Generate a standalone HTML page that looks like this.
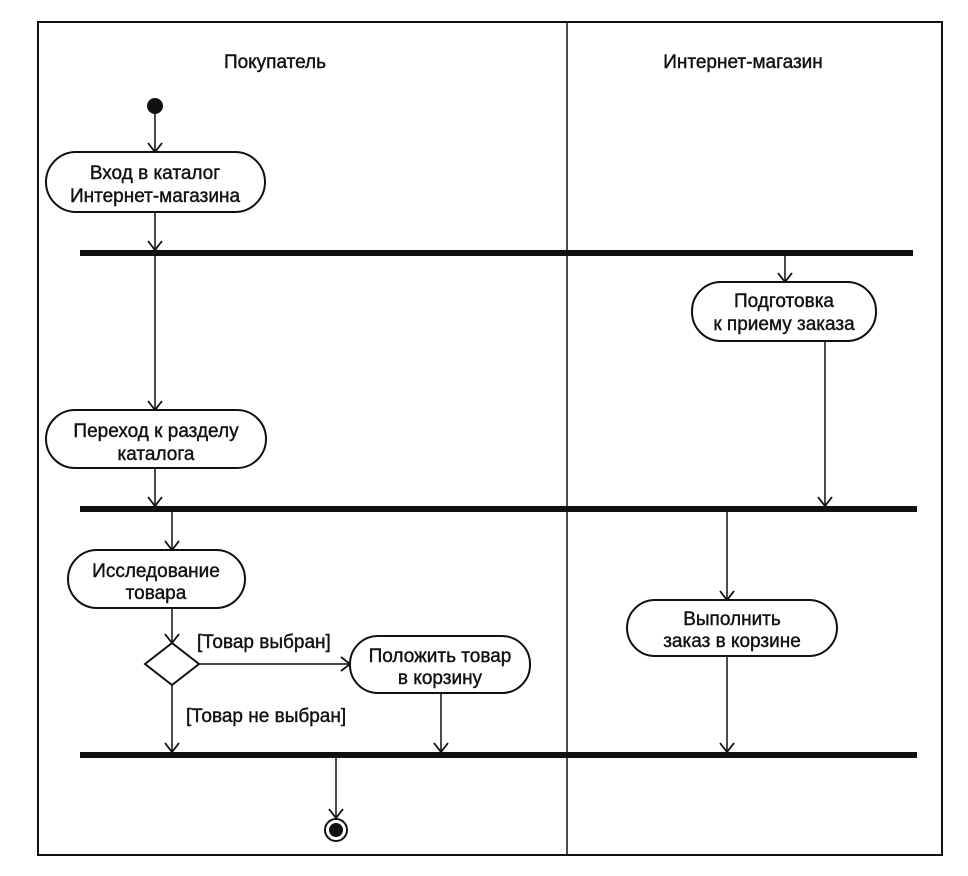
<!DOCTYPE html>
<html><head><meta charset="utf-8"><style>
html,body{margin:0;padding:0;background:#fff}
svg{display:block}
text{font-family:"Liberation Sans",sans-serif;font-size:19px;fill:#111;stroke:#111;stroke-width:0.4}
</style></head><body>
<svg width="968" height="876" viewBox="0 0 968 876" xmlns="http://www.w3.org/2000/svg">
<defs>
<marker id="r" markerWidth="16" markerHeight="16" refX="13" refY="8" orient="auto" markerUnits="userSpaceOnUse">
<path d="M4,1 L13,8 L4,15" fill="none" stroke="#111" stroke-width="1.8"/>
</marker>
</defs>
<rect x="38" y="22" width="904" height="833" fill="none" stroke="#111" stroke-width="2"/>
<line x1="567" y1="22" x2="567" y2="855" stroke="#111" stroke-width="1.5"/>
<text x="275" y="68" text-anchor="middle">Покупатель</text>
<text x="743" y="68" text-anchor="middle">Интернет-магазин</text>

<rect x="80" y="250" width="833" height="6" fill="#111"/>
<rect x="80" y="506" width="837" height="6" fill="#111"/>
<rect x="80" y="752" width="837" height="6" fill="#111"/>

<circle cx="155" cy="106" r="8" fill="#111"/>
<g fill="none" stroke="#111" stroke-width="1.5">
<line x1="155" y1="106" x2="155" y2="152" marker-end="url(#r)"/>
<line x1="155" y1="212" x2="155" y2="250" marker-end="url(#r)"/>
<line x1="155" y1="256" x2="155" y2="410" marker-end="url(#r)"/>
<line x1="155" y1="468" x2="155" y2="506" marker-end="url(#r)"/>
<line x1="172" y1="512" x2="172" y2="550" marker-end="url(#r)"/>
<line x1="172" y1="608" x2="172" y2="643" marker-end="url(#r)"/>
<line x1="199" y1="664" x2="350" y2="664" marker-end="url(#r)"/>
<line x1="172" y1="685" x2="172" y2="752" marker-end="url(#r)"/>
<line x1="441" y1="693" x2="441" y2="752" marker-end="url(#r)"/>
<line x1="785" y1="256" x2="785" y2="282" marker-end="url(#r)"/>
<line x1="825" y1="341" x2="825" y2="506" marker-end="url(#r)"/>
<line x1="727" y1="512" x2="727" y2="600" marker-end="url(#r)"/>
<line x1="727" y1="656" x2="727" y2="752" marker-end="url(#r)"/>
<line x1="336" y1="758" x2="336" y2="818" marker-end="url(#r)"/>
</g>
<g fill="#fff" stroke="#111" stroke-width="2">
<rect x="46" y="152" width="219" height="60" rx="30"/>
<rect x="46" y="410" width="220" height="58" rx="29"/>
<rect x="68" y="550" width="177" height="58" rx="29"/>
<rect x="350" y="636" width="180" height="57" rx="28"/>
<rect x="692" y="282" width="184" height="59" rx="29"/>
<rect x="627" y="600" width="210" height="56" rx="28"/>
<polygon points="145,664 172,643 199,664 172,685"/>
<circle cx="336" cy="830" r="11"/>
</g>
<circle cx="336" cy="830" r="7" fill="#111"/>

<text x="155" y="179" text-anchor="middle">Вход в каталог</text>
<text x="155" y="202" text-anchor="middle">Интернет-магазина</text>
<text x="156" y="437" text-anchor="middle">Переход к разделу</text>
<text x="156" y="460" text-anchor="middle">каталога</text>
<text x="156" y="577" text-anchor="middle">Исследование</text>
<text x="156" y="599" text-anchor="middle">товара</text>
<text x="440" y="662" text-anchor="middle">Положить товар</text>
<text x="440" y="684" text-anchor="middle">в корзину</text>
<text x="784" y="307" text-anchor="middle">Подготовка</text>
<text x="784" y="330" text-anchor="middle">к приему заказа</text>
<text x="732" y="625" text-anchor="middle">Выполнить</text>
<text x="732" y="647" text-anchor="middle">заказ в корзине</text>
<text x="197" y="648">[Товар выбран]</text>
<text x="186" y="722">[Товар не выбран]</text>
</svg>
</body></html>
